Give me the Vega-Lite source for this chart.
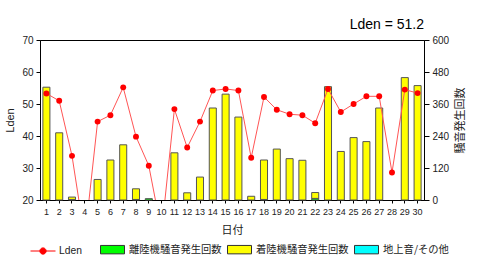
{
  "$schema": "https://vega.github.io/schema/vega-lite/v6.json",
  "width": 384,
  "height": 160,
  "autosize": "none",
  "padding": {"left": 40, "top": 40, "right": 56, "bottom": 63},
  "background": "white",
  "config": {
    "view": {"stroke": "#000", "strokeWidth": 1},
    "axis": {"labelFont": "Liberation Sans", "labelFontSize": 10, "labelColor": "#222", "titleFont": "Noto Sans CJK JP", "titleFontWeight": "normal", "titleColor": "#222", "domainColor": "#000", "tickColor": "#000", "grid": false},
    "legend": {"labelFont": "Noto Sans CJK JP", "labelFontSize": 10.3, "labelColor": "#222", "padding": 0}
  },
  "title": {"text": "Lden  = 51.2", "anchor": "end", "frame": "group", "font": "Liberation Sans", "fontSize": 14, "fontWeight": "normal", "color": "#000", "offset": 3},
  "datasets": {
    "counts": [
      {"day": 1, "type": "着陸機騒音発生回数", "n": 423},
      {"day": 2, "type": "着陸機騒音発生回数", "n": 252},
      {"day": 3, "type": "離陸機騒音発生回数", "n": 2},
      {"day": 3, "type": "着陸機騒音発生回数", "n": 9},
      {"day": 5, "type": "着陸機騒音発生回数", "n": 77},
      {"day": 6, "type": "着陸機騒音発生回数", "n": 150},
      {"day": 7, "type": "着陸機騒音発生回数", "n": 207},
      {"day": 8, "type": "離陸機騒音発生回数", "n": 2},
      {"day": 8, "type": "着陸機騒音発生回数", "n": 40},
      {"day": 9, "type": "離陸機騒音発生回数", "n": 5},
      {"day": 11, "type": "着陸機騒音発生回数", "n": 177},
      {"day": 12, "type": "着陸機騒音発生回数", "n": 27},
      {"day": 13, "type": "着陸機騒音発生回数", "n": 86},
      {"day": 14, "type": "着陸機騒音発生回数", "n": 345},
      {"day": 15, "type": "着陸機騒音発生回数", "n": 397},
      {"day": 16, "type": "着陸機騒音発生回数", "n": 311},
      {"day": 17, "type": "着陸機騒音発生回数", "n": 14},
      {"day": 18, "type": "離陸機騒音発生回数", "n": 2},
      {"day": 18, "type": "着陸機騒音発生回数", "n": 148},
      {"day": 19, "type": "着陸機騒音発生回数", "n": 191},
      {"day": 20, "type": "着陸機騒音発生回数", "n": 155},
      {"day": 21, "type": "着陸機騒音発生回数", "n": 149},
      {"day": 22, "type": "離陸機騒音発生回数", "n": 6},
      {"day": 22, "type": "着陸機騒音発生回数", "n": 22},
      {"day": 23, "type": "着陸機騒音発生回数", "n": 425},
      {"day": 24, "type": "着陸機騒音発生回数", "n": 182},
      {"day": 25, "type": "着陸機騒音発生回数", "n": 234},
      {"day": 26, "type": "着陸機騒音発生回数", "n": 219},
      {"day": 27, "type": "着陸機騒音発生回数", "n": 345},
      {"day": 29, "type": "着陸機騒音発生回数", "n": 459},
      {"day": 30, "type": "着陸機騒音発生回数", "n": 429}
    ],
    "lden": [
      {"day": 1, "lden": 53.3}, {"day": 2, "lden": 51.0}, {"day": 3, "lden": 33.8},
      {"day": 4, "lden": 8.0}, {"day": 5, "lden": 44.5}, {"day": 6, "lden": 46.5},
      {"day": 7, "lden": 55.2}, {"day": 8, "lden": 39.8}, {"day": 9, "lden": 30.7},
      {"day": 10, "lden": 10.0}, {"day": 11, "lden": 48.4}, {"day": 12, "lden": 36.4},
      {"day": 13, "lden": 44.5}, {"day": 14, "lden": 54.2}, {"day": 15, "lden": 54.7},
      {"day": 16, "lden": 54.2}, {"day": 17, "lden": 33.2}, {"day": 18, "lden": 52.2},
      {"day": 19, "lden": 48.2}, {"day": 20, "lden": 46.8}, {"day": 21, "lden": 46.5},
      {"day": 22, "lden": 44.0}, {"day": 23, "lden": 54.7}, {"day": 24, "lden": 47.5},
      {"day": 25, "lden": 50.0}, {"day": 26, "lden": 52.4}, {"day": 27, "lden": 52.4},
      {"day": 28, "lden": 28.6}, {"day": 29, "lden": 54.5}, {"day": 30, "lden": 53.4}
    ]
  },
  "encoding": {
    "x": {
      "field": "day", "type": "ordinal",
      "scale": {"domain": [1,2,3,4,5,6,7,8,9,10,11,12,13,14,15,16,17,18,19,20,21,22,23,24,25,26,27,28,29,30], "paddingInner": 0.45, "paddingOuter": 0.225},
      "axis": {"title": "日付", "labelAngle": 0, "labelFontSize": 9, "tickSize": 3, "labelPadding": 4, "titleFontSize": 11, "titlePadding": 8}
    }
  },
  "layer": [
    {
      "data": {"name": "counts"},
      "mark": {"type": "bar", "stroke": "#555", "strokeWidth": 1},
      "encoding": {
        "y": {"field": "n", "type": "quantitative", "stack": "zero",
          "scale": {"domain": [0, 600]},
          "axis": {"orient": "right", "values": [0, 120, 240, 360, 480, 600], "title": "騒音発生回数", "titleAngle": 270, "titleBaseline": "top", "titleFontSize": 11, "titlePadding": 6, "tickSize": 5, "labelPadding": 3}},
        "color": {"field": "type", "type": "nominal",
          "sort": ["離陸機騒音発生回数", "着陸機騒音発生回数", "地上音/その他"],
          "scale": {"domain": ["離陸機騒音発生回数", "着陸機騒音発生回数", "地上音/その他"], "range": ["#00ff00", "#ffff00", "#00ffff"]},
          "legend": {"title": null, "orient": "none", "legendX": 60, "legendY": 197, "direction": "horizontal", "columns": 3, "columnPadding": 3,
            "symbolType": "M-1,-0.35H1V0.35H-1Z", "symbolSize": 576, "symbolStrokeColor": "#333", "symbolStrokeWidth": 1, "symbolOpacity": 1, "labelOffset": 4}}
      }
    },
    {
      "data": {"name": "lden"},
      "mark": {"type": "line", "color": "#ff5555", "strokeWidth": 1, "clip": true},
      "encoding": {
        "y": {"field": "lden", "type": "quantitative", "scale": {"domain": [20, 70]},
          "axis": {"orient": "left", "values": [20, 30, 40, 50, 60, 70], "title": "Lden", "titleFont": "Liberation Sans", "titleFontSize": 11, "titlePadding": 6, "tickSize": 4, "labelPadding": 3}}
      }
    },
    {
      "data": {"name": "lden"},
      "mark": {"type": "point", "filled": true, "size": 35, "opacity": 1, "clip": true},
      "encoding": {
        "y": {"field": "lden", "type": "quantitative", "scale": {"domain": [20, 70]}, "axis": null},
        "color": {"datum": "Lden", "type": "nominal",
          "scale": {"domain": ["Lden"], "range": ["#ff0000"]},
          "legend": {"title": null, "orient": "none", "legendX": -10, "legendY": 198,
            "symbolType": "M-1,0H1M-0.25,0A0.25,0.25,0,1,1,0.25,0A0.25,0.25,0,1,1,-0.25,0Z", "symbolSize": 625, "symbolStrokeColor": "#ff0000", "symbolFillColor": "#ff0000", "symbolStrokeWidth": 1, "labelFont": "Liberation Sans", "labelOffset": 3}}
      }
    }
  ],
  "resolve": {"scale": {"y": "independent", "color": "independent"}}
}
